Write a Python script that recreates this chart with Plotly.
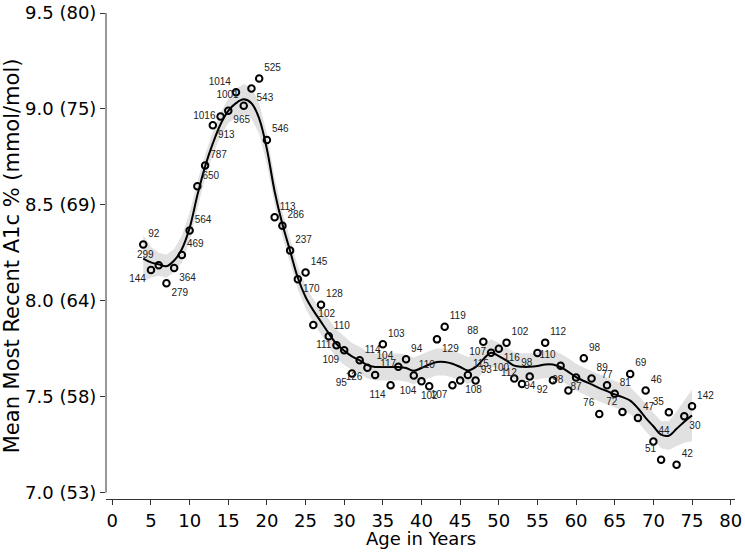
import plotly.graph_objects as go

# age in years, mean most recent A1c (%) and number of people at each age
ages = list(range(4, 76))
a1c = [8.293, 8.161, 8.185, 8.091, 8.171, 8.239, 8.366, 8.597, 8.705, 8.915,
       8.960, 8.990, 9.087, 9.016, 9.106, 9.159, 8.838, 8.436, 8.391, 8.262,
       8.112, 8.148, 7.874, 7.979, 7.815, 7.768, 7.742, 7.621, 7.690, 7.651,
       7.613, 7.773, 7.560, 7.656, 7.695, 7.611, 7.581, 7.555, 7.799, 7.865,
       7.560, 7.585, 7.613, 7.585, 7.787, 7.729, 7.750, 7.782, 7.595, 7.567,
       7.606, 7.728, 7.782, 7.586, 7.661, 7.532, 7.600, 7.700, 7.595, 7.410,
       7.560, 7.515, 7.420, 7.619, 7.389, 7.532, 7.267, 7.171, 7.419, 7.145,
       7.398, 7.450]
counts = [92, 144, 299, 279, 364, 469, 564, 650, 787, 913,
          1016, 965, 1014, 1001, 543, 525, 546, 113, 286, 237,
          170, 145, 102, 128, 110, 111, 109, 95, 114, 126,
          117, 103, 114, 104, 94, 110, 104, 102, 129, 119,
          107, 108, 115, 93, 88, 107, 116, 102, 100, 112,
          94, 98, 112, 92, 110, 98, 87, 98, 89, 76,
          77, 81, 72, 69, 47, 46, 44, 51, 35, 42,
          30, 142]

# smoothed fit and its confidence band
fit = [8.22, 8.20, 8.19, 8.18, 8.21, 8.27, 8.38, 8.55, 8.70, 8.82,
       8.92, 8.99, 9.03, 9.05, 9.03, 8.95, 8.79, 8.57, 8.40, 8.26,
       8.12, 8.02, 7.95, 7.89, 7.83, 7.775, 7.74, 7.71, 7.69, 7.665,
       7.655, 7.655, 7.655, 7.655, 7.65, 7.635, 7.65, 7.668, 7.681, 7.681,
       7.672, 7.655, 7.637, 7.654, 7.696, 7.729, 7.712, 7.688, 7.662, 7.656,
       7.656, 7.66, 7.668, 7.668, 7.654, 7.63, 7.602, 7.582, 7.564, 7.545,
       7.529, 7.512, 7.498, 7.48, 7.44, 7.39, 7.346, 7.302, 7.297, 7.333,
       7.37, 7.403]
fit_hi = [8.34, 8.28, 8.25, 8.24, 8.27, 8.34, 8.46, 8.62, 8.76, 8.88,
          8.98, 9.055, 9.105, 9.13, 9.11, 9.03, 8.87, 8.64, 8.465, 8.32,
          8.18, 8.08, 8.01, 7.955, 7.90, 7.85, 7.815, 7.78, 7.76, 7.735,
          7.725, 7.725, 7.725, 7.725, 7.72, 7.705, 7.72, 7.738, 7.751, 7.751,
          7.742, 7.725, 7.707, 7.724, 7.766, 7.799, 7.782, 7.758, 7.732, 7.726,
          7.726, 7.73, 7.738, 7.738, 7.724, 7.70, 7.672, 7.652, 7.634, 7.615,
          7.599, 7.582, 7.568, 7.55, 7.51, 7.46, 7.416, 7.372, 7.372, 7.423,
          7.48, 7.538]
fit_lo = [8.10, 8.12, 8.13, 8.12, 8.15, 8.20, 8.31, 8.48, 8.64, 8.76,
          8.86, 8.925, 8.955, 8.97, 8.95, 8.87, 8.71, 8.50, 8.335, 8.20,
          8.06, 7.96, 7.89, 7.825, 7.76, 7.70, 7.665, 7.64, 7.62, 7.595,
          7.585, 7.585, 7.585, 7.585, 7.58, 7.565, 7.58, 7.598, 7.611, 7.611,
          7.602, 7.585, 7.567, 7.584, 7.626, 7.659, 7.642, 7.618, 7.592, 7.586,
          7.586, 7.59, 7.598, 7.598, 7.584, 7.56, 7.532, 7.512, 7.494, 7.475,
          7.459, 7.442, 7.428, 7.41, 7.37, 7.32, 7.276, 7.232, 7.222, 7.243,
          7.26, 7.268]

y_ticks = [7.0, 7.5, 8.0, 8.5, 9.0, 9.5]
y_tick_text = ["7.0 (53)", "7.5 (58)", "8.0 (64)", "8.5 (69)", "9.0 (75)", "9.5 (80)"]
x_ticks = list(range(0, 81, 5))

# where each count label sits around its marker (default top right)
label_side = {5: "bottom left", 6: "top left", 7: "bottom right", 8: "bottom right",
              13: "bottom right", 14: "middle left", 15: "bottom right", 16: "top left",
              17: "top left", 18: "bottom right", 24: "bottom right", 29: "middle left",
              30: "bottom left", 31: "bottom left", 33: "bottom left", 36: "bottom left",
              37: "top left", 40: "bottom left", 41: "bottom center", 42: "bottom right",
              44: "bottom left", 45: "bottom right", 48: "top left", 49: "middle left",
              50: "bottom right", 52: "top left", 53: "top left", 54: "bottom center",
              55: "bottom left", 57: "bottom left", 58: "top left", 59: "top left",
              60: "bottom center", 63: "top left", 64: "top center", 66: "top left",
              71: "top left", 72: "top left", 74: "bottom right"}
positions = [label_side.get(a, "top right") for a in ages]

fig = go.Figure()

fig.add_trace(go.Scatter(
    x=ages + ages[::-1], y=fit_hi + fit_lo[::-1],
    fill="toself", fillcolor="rgb(225,225,225)", line=dict(width=0),
    mode="lines", hoverinfo="skip", showlegend=False))

fig.add_trace(go.Scatter(
    x=ages, y=fit, mode="lines", line=dict(color="black", width=2, shape="spline"),
    showlegend=False))

fig.add_trace(go.Scatter(
    x=ages, y=a1c, mode="markers+text",
    marker=dict(symbol="circle-open", size=6.5, color="black", line=dict(width=2)),
    text=[str(c) for c in counts], textposition=positions,
    textfont=dict(family="Liberation Sans", size=10, color="#222"),
    showlegend=False))

# Stata-style y axis line that stops at the last tick
fig.add_shape(type="line", xref="paper", yref="y", x0=0, x1=0, y0=7.0, y1=9.5,
              line=dict(color="#333", width=1))

# axis titles placed as annotations
fig.add_annotation(text="Age in Years", xref="paper", yref="paper", x=0.5, y=-0.082,
                   xanchor="center", yanchor="middle", showarrow=False,
                   font=dict(size=18))
fig.add_annotation(text="Mean Most Recent A1c % (mmol/mol)", xref="paper", yref="paper",
                   x=-0.149, y=0.5, xanchor="center", yanchor="middle", textangle=-90,
                   showarrow=False, font=dict(size=21))

fig.update_layout(
    width=745, height=552,
    margin=dict(l=106, r=10, t=13, b=53),
    paper_bgcolor="white", plot_bgcolor="white",
    font=dict(family="DejaVu Sans", size=17, color="black"),
)
fig.update_xaxes(
    range=[-0.82, 80.56], tickvals=x_ticks, ticks="outside", ticklen=5,
    tickcolor="#333", showline=True, linecolor="#333", linewidth=1,
    showgrid=False, zeroline=False, automargin=False, tickfont=dict(size=18))
fig.update_yaxes(
    range=[6.967, 9.5], tickvals=y_ticks, ticktext=y_tick_text, ticks="outside",
    ticklen=5, tickcolor="#333", showline=False, showgrid=False, zeroline=False,
    automargin=False, tickfont=dict(size=18))

# the page body has a default margin; drop it so the figure sits at the corner
fig.write_html("out.html", config={"displayModeBar": False},
               post_script="document.body.style.margin = '0px';")
